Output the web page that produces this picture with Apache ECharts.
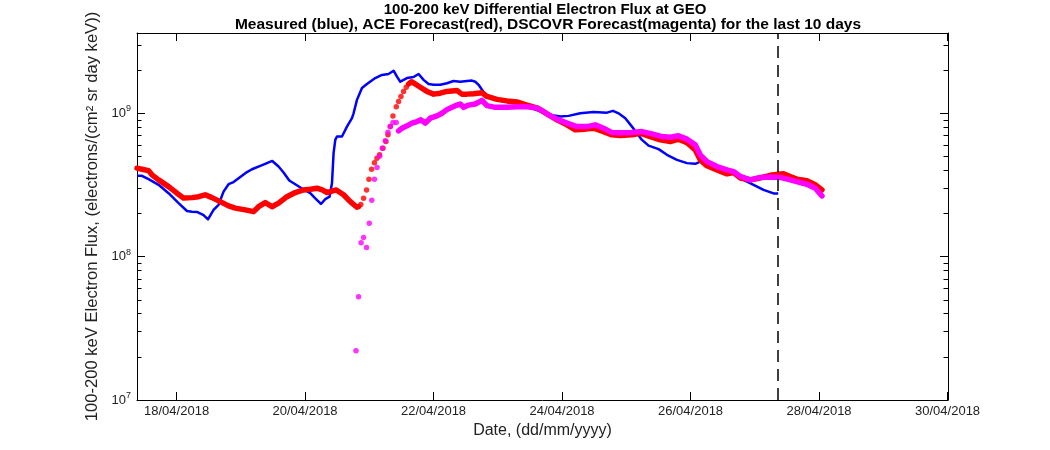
<!DOCTYPE html>
<html><head><meta charset="utf-8">
<script src="https://cdn.jsdelivr.net/npm/echarts@6/dist/echarts.min.js"></script>
<style>html,body{margin:0;padding:0;background:#fff}#c{width:1050px;height:450px}</style>
</head><body><div id="c"></div>
<script>
// ---- Measured (blue) ----
const measTimes = ['2018-04-17 09:13','2018-04-17 11:05','2018-04-17 13:32','2018-04-17 17:17','2018-04-17 21:01','2018-04-18 00:45','2018-04-18 03:53','2018-04-18 05:45','2018-04-18 07:37','2018-04-18 10:05','2018-04-18 11:44','2018-04-18 13:49','2018-04-18 15:41','2018-04-18 17:33','2018-04-18 19:25','2018-04-18 21:17','2018-04-18 23:10','2018-04-19 01:40','2018-04-19 04:10','2018-04-19 07:16','2018-04-19 09:46','2018-04-19 11:45','2018-04-19 14:06','2018-04-19 15:58','2018-04-19 18:06','2018-04-19 20:20','2018-04-19 23:26','2018-04-20 01:56','2018-04-20 03:49','2018-04-20 05:56','2018-04-20 07:33','2018-04-20 09:09','2018-04-20 10:03','2018-04-20 10:39','2018-04-20 11:17','2018-04-20 11:55','2018-04-20 13:47','2018-04-20 15:39','2018-04-20 17:31','2018-04-20 18:07','2018-04-20 19:23','2018-04-20 21:15','2018-04-20 23:07','2018-04-21 02:13','2018-04-21 04:44','2018-04-21 07:11','2018-04-21 09:04','2018-04-21 10:20','2018-04-21 11:34','2018-04-21 14:04','2018-04-21 16:32','2018-04-21 18:24','2018-04-21 20:16','2018-04-21 22:08','2018-04-22 00:00','2018-04-22 02:30','2018-04-22 05:00','2018-04-22 07:28','2018-04-22 09:58','2018-04-22 12:29','2018-04-22 14:20','2018-04-22 15:35','2018-04-22 16:49','2018-04-22 18:05','2018-04-22 19:57','2018-04-23 00:55','2018-04-23 08:23','2018-04-23 15:51','2018-04-23 19:35','2018-04-23 23:20','2018-04-24 02:26','2018-04-24 06:48','2018-04-24 11:46','2018-04-24 16:46','2018-04-24 19:01','2018-04-24 21:06','2018-04-24 23:37','2018-04-25 02:07','2018-04-25 03:59','2018-04-25 05:51','2018-04-25 08:19','2018-04-25 12:03','2018-04-25 15:11','2018-04-25 18:55','2018-04-25 22:40','2018-04-26 01:46','2018-04-26 03:38','2018-04-26 09:52','2018-04-26 16:04','2018-04-26 19:48','2018-04-26 23:32','2018-04-27 03:16','2018-04-27 07:00','2018-04-27 08:45'];
const measFlux = [3.66e8,3.66e8,3.47e8,3.17e8,2.77e8,2.36e8,2.08e8,2.06e8,2.05e8,1.95e8,1.82e8,2.12e8,2.30e8,2.84e8,3.20e8,3.31e8,3.52e8,3.82e8,4.07e8,4.30e8,4.49e8,4.65e8,4.25e8,3.86e8,3.40e8,3.20e8,2.94e8,2.77e8,2.55e8,2.33e8,2.52e8,2.62e8,3.25e8,5.27e8,6.52e8,6.88e8,6.88e8,8.07e8,9.24e8,1.00e9,1.24e9,1.50e9,1.60e9,1.76e9,1.85e9,1.88e9,1.98e9,1.80e9,1.66e9,1.76e9,1.79e9,1.88e9,1.71e9,1.60e9,1.58e9,1.58e9,1.62e9,1.68e9,1.66e9,1.68e9,1.69e9,1.66e9,1.58e9,1.46e9,1.32e9,1.22e9,1.16e9,1.03e9,9.74e8,9.48e8,9.59e8,1.00e9,1.02e9,1.01e9,1.04e9,1.00e9,9.24e8,8.07e8,7.26e8,6.52e8,5.95e8,5.62e8,5.13e8,4.73e8,4.49e8,4.44e8,4.60e8,4.30e8,3.90e8,3.43e8,3.17e8,2.92e8,2.76e8,2.76e8];

// ---- ACE forecast (red) ----
const aceTimesA = ['2018-04-17 09:13','2018-04-17 11:05','2018-04-17 13:32','2018-04-17 14:49','2018-04-17 17:17','2018-04-17 21:01','2018-04-18 00:09','2018-04-18 02:37','2018-04-18 05:45','2018-04-18 08:13','2018-04-18 10:43','2018-04-18 13:13','2018-04-18 16:19','2018-04-18 19:25','2018-04-18 21:56','2018-04-19 01:40','2018-04-19 04:46','2018-04-19 06:38','2018-04-19 09:08','2018-04-19 11:38','2018-04-19 14:06','2018-04-19 17:14','2018-04-19 20:20','2018-04-19 23:26','2018-04-20 01:56','2018-04-20 04:27','2018-04-20 06:25','2018-04-20 08:11','2018-04-20 11:39','2018-04-20 14:23','2018-04-20 16:53','2018-04-20 19:23','2018-04-20 19:59'];
const aceFluxA = [4.14e8,4.07e8,3.98e8,3.72e8,3.43e8,3.08e8,2.77e8,2.56e8,2.58e8,2.62e8,2.70e8,2.58e8,2.42e8,2.26e8,2.18e8,2.12e8,2.06e8,2.23e8,2.38e8,2.23e8,2.36e8,2.62e8,2.80e8,2.92e8,2.95e8,3.00e8,2.92e8,2.80e8,2.92e8,2.70e8,2.42e8,2.21e8,2.23e8];
const aceTimesRise = ['2018-04-20 20:49','2018-04-20 21:51','2018-04-20 22:58','2018-04-20 23:52','2018-04-21 00:50','2018-04-21 01:55','2018-04-21 02:51','2018-04-21 03:50','2018-04-21 05:06','2018-04-21 06:13','2018-04-21 06:58','2018-04-21 07:50','2018-04-21 08:50','2018-04-21 10:04','2018-04-21 10:56','2018-04-21 11:49','2018-04-21 12:47','2018-04-21 13:48'];
const aceFluxRise = [2.31e8,2.55e8,2.92e8,3.47e8,4.07e8,4.51e8,4.86e8,5.13e8,5.71e8,6.35e8,7.07e8,8.07e8,9.59e8,1.11e9,1.21e9,1.31e9,1.42e9,1.52e9];
const aceTimesB = ['2018-04-21 14:40','2018-04-21 15:40','2018-04-21 17:10','2018-04-21 19:02','2018-04-21 21:32','2018-04-22 00:00','2018-04-22 02:30','2018-04-22 05:00','2018-04-22 08:44','2018-04-22 10:36','2018-04-22 12:29','2018-04-22 14:56','2018-04-22 18:05','2018-04-22 19:57','2018-04-22 23:41','2018-04-23 03:25','2018-04-23 07:09','2018-04-23 10:53','2018-04-23 14:37','2018-04-23 18:22','2018-04-23 22:05','2018-04-24 01:50','2018-04-24 04:56','2018-04-24 08:40','2018-04-24 11:46','2018-04-24 15:30','2018-04-24 18:38','2018-04-24 21:44','2018-04-25 02:07','2018-04-25 05:13','2018-04-25 08:57','2018-04-25 12:41','2018-04-25 16:25','2018-04-25 19:31','2018-04-25 22:40','2018-04-26 01:46','2018-04-26 03:38','2018-04-26 06:08','2018-04-26 09:52','2018-04-26 13:36','2018-04-26 16:04','2018-04-26 18:34','2018-04-26 22:18','2018-04-27 02:02','2018-04-27 05:46','2018-04-27 08:52','2018-04-27 10:44','2018-04-27 13:14','2018-04-27 15:44','2018-04-27 19:29','2018-04-27 22:35','2018-04-28 01:05'];
const aceFluxB = [1.60e9,1.66e9,1.60e9,1.52e9,1.42e9,1.36e9,1.38e9,1.42e9,1.44e9,1.36e9,1.36e9,1.37e9,1.39e9,1.31e9,1.25e9,1.22e9,1.20e9,1.14e9,1.09e9,9.90e8,8.99e8,8.30e8,7.66e8,7.75e8,7.87e8,7.45e8,7.07e8,7.01e8,7.07e8,7.26e8,6.88e8,6.52e8,6.35e8,6.60e8,6.24e8,5.55e8,4.73e8,4.30e8,4.03e8,3.78e8,3.86e8,3.54e8,3.43e8,3.54e8,3.69e8,3.75e8,3.78e8,3.62e8,3.47e8,3.38e8,3.17e8,2.92e8];

// ---- DSCOVR forecast (magenta) ----
const dscTimesRise = ['2018-04-20 19:01','2018-04-20 19:59','2018-04-20 20:55','2018-04-20 21:51','2018-04-20 22:58','2018-04-20 23:59','2018-04-21 00:55','2018-04-21 01:55','2018-04-21 02:53','2018-04-21 03:50','2018-04-21 04:50','2018-04-21 05:58','2018-04-21 06:58','2018-04-21 07:50','2018-04-21 08:50','2018-04-21 10:04'];
const dscFluxRise = [2.21e7,5.26e7,1.25e8,1.36e8,1.16e8,1.71e8,2.47e8,3.47e8,4.18e8,5.02e8,5.71e8,6.42e8,7.38e8,8.07e8,8.61e8,8.61e8];
const dscTimesB = ['2018-04-21 10:56','2018-04-21 12:12','2018-04-21 14:04','2018-04-21 15:56','2018-04-21 17:48','2018-04-21 19:17','2018-04-21 20:54','2018-04-21 22:46','2018-04-22 01:16','2018-04-22 03:08','2018-04-22 05:00','2018-04-22 08:07','2018-04-22 09:58','2018-04-22 11:13','2018-04-22 13:04','2018-04-22 15:35','2018-04-22 18:05','2018-04-22 19:57','2018-04-22 23:03','2018-04-23 03:25','2018-04-23 07:09','2018-04-23 10:53','2018-04-23 14:37','2018-04-23 17:05','2018-04-23 18:58','2018-04-23 22:05','2018-04-24 01:50','2018-04-24 05:34','2018-04-24 09:18','2018-04-24 12:24','2018-04-24 15:30','2018-04-24 18:38','2018-04-24 21:44','2018-04-25 02:07','2018-04-25 05:51','2018-04-25 09:35','2018-04-25 13:19','2018-04-25 16:25','2018-04-25 19:31','2018-04-25 22:40','2018-04-26 01:46','2018-04-26 03:38','2018-04-26 06:08','2018-04-26 09:52','2018-04-26 13:36','2018-04-26 16:04','2018-04-26 18:34','2018-04-26 22:18','2018-04-27 02:02','2018-04-27 05:46','2018-04-27 09:31','2018-04-27 13:14','2018-04-27 16:20','2018-04-27 19:29','2018-04-27 22:35','2018-04-28 01:05'];
const dscFluxB = [7.54e8,7.87e8,8.17e8,8.53e8,8.75e8,8.99e8,8.53e8,9.24e8,9.59e8,1.00e9,1.06e9,1.13e9,1.16e9,1.10e9,1.14e9,1.16e9,1.23e9,1.13e9,1.10e9,1.10e9,1.11e9,1.11e9,1.09e9,1.03e9,9.74e8,9.10e8,8.53e8,8.07e8,8.07e8,8.30e8,7.87e8,7.33e8,7.30e8,7.33e8,7.45e8,7.18e8,6.88e8,6.81e8,6.96e8,6.60e8,6.02e8,5.13e8,4.60e8,4.25e8,4.03e8,3.92e8,3.63e8,3.43e8,3.57e8,3.60e8,3.57e8,3.43e8,3.31e8,3.20e8,3.00e8,2.65e8];

// ---- axes ----
const xMin = '2018-04-17 09:13';
const xMax = '2018-04-30 00:10';
const xTickDates = ['2018-04-18 00:00','2018-04-20 00:00','2018-04-22 00:00','2018-04-24 00:00','2018-04-26 00:00','2018-04-28 00:00','2018-04-30 00:00'];
const nowTime = '2018-04-27 08:45';
const yMin = 1e7, yMax = 3.63e9;
const yMinor = [2e7,3e7,4e7,5e7,6e7,7e7,8e7,9e7,2e8,3e8,4e8,5e8,6e8,7e8,8e8,9e8,2e9,3e9];

const titleLines = ['100-200 keV Differential Electron Flux at GEO','Measured (blue), ACE Forecast(red), DSCOVR Forecast(magenta) for the last 10 days'];
const xName = 'Date, (dd/mm/yyyy)';
const yName = '100-200 keV Electron Flux, (electrons/(cm\u00B2 sr day keV))';

// parse 'YYYY-MM-DD hh:mm' as a timestamp
const ts = s => { const [d, t] = s.split(' '); const [Y, M, D] = d.split('-').map(Number); const [h, m] = t.split(':').map(Number); return new Date(Y, M - 1, D, h, m).getTime(); };
const zip = (t, v) => t.map((s, i) => [ts(s), v[i]]);
const FONT = "'Liberation Sans', Arial, Helvetica, sans-serif";
const pad = n => (n < 10 ? '0' : '') + n;
const fmtDate = v => { const d = new Date(v); return pad(d.getDate()) + '/' + pad(d.getMonth() + 1) + '/' + d.getFullYear(); };
const xTicks = xTickDates.map(ts);

const tickStyle = (len, vals) => ({ show: true, inside: true, length: len, customValues: vals, lineStyle: { color: '#000', width: 1 } });
const lineSt = { show: true, lineStyle: { color: '#000', width: 1 } };
const titleStyle = { fontFamily: FONT, fontSize: 15, fontWeight: 'bold', color: '#000' };

const chart = echarts.init(document.getElementById('c'), null, { renderer: 'canvas' });
chart.setOption({
  animation: false,
  backgroundColor: '#fff',
  textStyle: { fontFamily: FONT },
  title: [
    { text: titleLines[0], left: 545, top: 2, padding: 0, textAlign: 'center', textStyle: titleStyle },
    { text: titleLines[1], left: 548, top: 17, padding: 0, textAlign: 'center', textStyle: Object.assign({}, titleStyle, { fontSize: 15.5 }) }
  ],
  grid: { left: 137, right: 102, top: 33, bottom: 50, containLabel: false },
  xAxis: [
    { type: 'value', position: 'bottom', min: ts(xMin), max: ts(xMax), scale: true,
      axisLine: lineSt, splitLine: { show: false },
      axisTick: tickStyle(8, xTicks),
      axisLabel: { customValues: xTicks, formatter: v => fmtDate(v), fontSize: 13, color: '#222', margin: 5, fontFamily: FONT },
      name: xName, nameLocation: 'middle', nameGap: 14, nameTextStyle: { fontSize: 16, color: '#222', fontFamily: FONT } },
    { type: 'value', position: 'top', min: ts(xMin), max: ts(xMax), scale: true,
      axisLine: lineSt, splitLine: { show: false },
      axisTick: tickStyle(8, xTicks), axisLabel: { show: false } }
  ],
  yAxis: [
    { type: 'log', position: 'left', min: yMin, max: yMax, logBase: 10,
      axisLine: lineSt, splitLine: { show: false },
      axisTick: { show: true, inside: true, length: 8, lineStyle: { color: '#000', width: 1 } },
      axisLabel: { margin: 6, color: '#222', fontFamily: FONT,
        formatter: v => { const e = Math.log10(v); if (Math.abs(e - Math.round(e)) > 1e-6) return ''; return '{b|10}{s|' + Math.round(e) + '}'; },
        rich: { b: { fontSize: 13, color: '#222', fontFamily: FONT, lineHeight: 18 }, s: { fontSize: 9, color: '#222', fontFamily: FONT, verticalAlign: 'top', lineHeight: 10 } } },
      name: yName, nameLocation: 'middle', nameGap: 26, nameRotate: 90, nameTextStyle: { fontSize: 16.6, color: '#222', fontFamily: FONT } },
    { type: 'log', position: 'left', min: yMin, max: yMax, logBase: 10,
      axisLine: { show: false }, splitLine: { show: false },
      axisTick: tickStyle(4.5, yMinor), axisLabel: { show: false } },
    { type: 'log', position: 'right', min: yMin, max: yMax, logBase: 10,
      axisLine: lineSt, splitLine: { show: false },
      axisTick: { show: true, inside: true, length: 8, lineStyle: { color: '#000', width: 1 } }, axisLabel: { show: false } },
    { type: 'log', position: 'right', min: yMin, max: yMax, logBase: 10,
      axisLine: { show: false }, splitLine: { show: false },
      axisTick: tickStyle(4.5, yMinor), axisLabel: { show: false } }
  ],
  series: [
    { name: 'Measured', type: 'line', xAxisIndex: 0, yAxisIndex: 0, data: zip(measTimes, measFlux), showSymbol: false, z: 2,
      lineStyle: { color: '#0000ff', width: 2.5, join: 'round' },
      markLine: { silent: true, symbol: ['none', 'none'], label: { show: false },
        lineStyle: { color: '#000', width: 1.5, type: [12, 7] }, data: [{ xAxis: ts(nowTime) }] } },
    { name: 'ACE', type: 'line', yAxisIndex: 0, data: zip(aceTimesA, aceFluxA), showSymbol: false, z: 3,
      lineStyle: { color: '#ff0000', width: 5.5, cap: 'round', join: 'round' } },
    { name: 'ACE', type: 'scatter', yAxisIndex: 0, data: zip(aceTimesRise, aceFluxRise), symbolSize: 5.5, z: 3,
      itemStyle: { color: '#ff0000' } },
    { name: 'ACE', type: 'line', yAxisIndex: 0, data: zip(aceTimesB, aceFluxB), showSymbol: false, z: 3,
      lineStyle: { color: '#ff0000', width: 5.5, cap: 'round', join: 'round' } },
    { name: 'DSCOVR', type: 'scatter', yAxisIndex: 0, data: zip(dscTimesRise, dscFluxRise), symbolSize: 5.5, z: 4,
      itemStyle: { color: '#ff00ff' } },
    { name: 'DSCOVR', type: 'line', yAxisIndex: 0, data: zip(dscTimesB, dscFluxB), showSymbol: false, z: 4,
      lineStyle: { color: '#ff00ff', width: 5.5, cap: 'round', join: 'round' } }
  ]
});
</script></body></html>
